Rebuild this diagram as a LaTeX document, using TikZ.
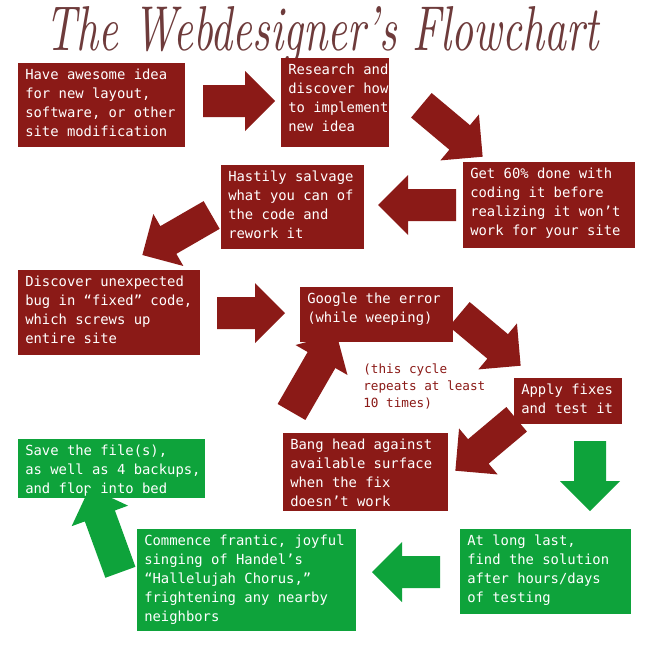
\documentclass[tikz,border=0pt]{standalone}
\usepackage{fontspec}
\setmonofont{DejaVu Sans Mono}
\definecolor{bred}{HTML}{8B1A17}
\definecolor{bgreen}{HTML}{0EA33B}
\definecolor{ttl}{HTML}{6E3B3B}
\newcommand{\barrow}[6]{% name, cx, cy, angle, length, color
  \begin{scope}[shift={(#2,#3)},rotate=-#4]
    \coordinate (#1) at (0,0);
    \fill[#6] (-#5/2,-16) -- (#5/2-30,-16) -- (#5/2-30,-30) -- (#5/2,0) -- (#5/2-30,30) -- (#5/2-30,16) -- (-#5/2,16) -- cycle;
  \end{scope}}
\begin{document}
\begin{tikzpicture}[x=0.75pt,y=-0.75pt,
  box/.style={inner sep=0pt,outer sep=0pt},
  txt/.style={anchor=north west,inner sep=0pt,text=white,font=\ttfamily\fontsize{10.4}{14.25}\selectfont,align=left}]
\useasboundingbox (0,0) rectangle (650,650);
\fill[white] (0,0) rectangle (650,650);
\node[text=ttl,font=\itshape] (title) at (322,35) {\resizebox{415pt}{33pt}{The Webdesigner's Flowchart}};
% boxes
\newcommand{\bx}[7]{\fill[#6] (#2,#3) rectangle (#4,#5); \node[txt] (#1) at (#2+7,#3+6) {#7};}
\bx{b1}{18}{63}{185}{147}{bred}{Have awesome idea\\for new layout,\\software, or other\\site modification}
\bx{b2}{281}{58}{389}{147}{bred}{Research and\\discover how\\to implement\\new idea}
\bx{b3}{463}{162}{635}{248}{bred}{Get 60\% done with\\coding it before\\realizing it won’t\\work for your site}
\bx{b4}{221}{165}{364}{249}{bred}{Hastily salvage\\what you can of\\the code and\\rework it}
\bx{b5}{18}{270}{200}{355}{bred}{Discover unexpected\\bug in “fixed” code,\\which screws up\\entire site}
\bx{b6}{300}{287}{453}{342}{bred}{Google the error\\(while weeping)}
\bx{b7}{514}{378}{622}{424}{bred}{Apply fixes\\and test it}
\bx{b8}{283}{433}{448}{511}{bred}{Bang head against\\available surface\\when the fix\\doesn’t work}
\bx{b9}{18}{439}{205}{498}{bgreen}{Save the file(s),\\as well as 4 backups,\\and flop into bed}
\bx{b10}{460}{529}{631}{614}{bgreen}{At long last,\\find the solution\\after hours/days\\of testing}
\bx{b11}{137}{529}{356}{631}{bgreen}{Commence frantic, joyful\\singing of Handel’s\\“Hallelujah Chorus,”\\frightening any nearby\\neighbors}
\node[anchor=north west,inner sep=0pt,text=bred,font=\ttfamily\fontsize{9.5}{12.5}\selectfont,align=left] (note) at (363,364) {(this cycle\\repeats at least\\10 times)};
% arrows
\barrow{a1}{239}{101}{0}{72}{bred}
\barrow{a2}{452}{131}{40}{80}{bred}
\barrow{a3}{417}{205}{180}{78}{bred}
\barrow{a4}{177}{235}{150}{80}{bred}
\barrow{a5}{251}{313}{0}{68}{bred}
\barrow{a6}{490}{340}{40}{80}{bred}
\barrow{a7}{314}{373}{-60}{90}{bred}
\barrow{a8}{486}{445}{140}{80}{bred}
\barrow{a9}{590}{476}{90}{70}{bgreen}
\barrow{a10}{406}{572}{180}{68}{bgreen}
\barrow{a11}{105}{530}{250}{90}{bgreen}
\end{tikzpicture}
\end{document}
